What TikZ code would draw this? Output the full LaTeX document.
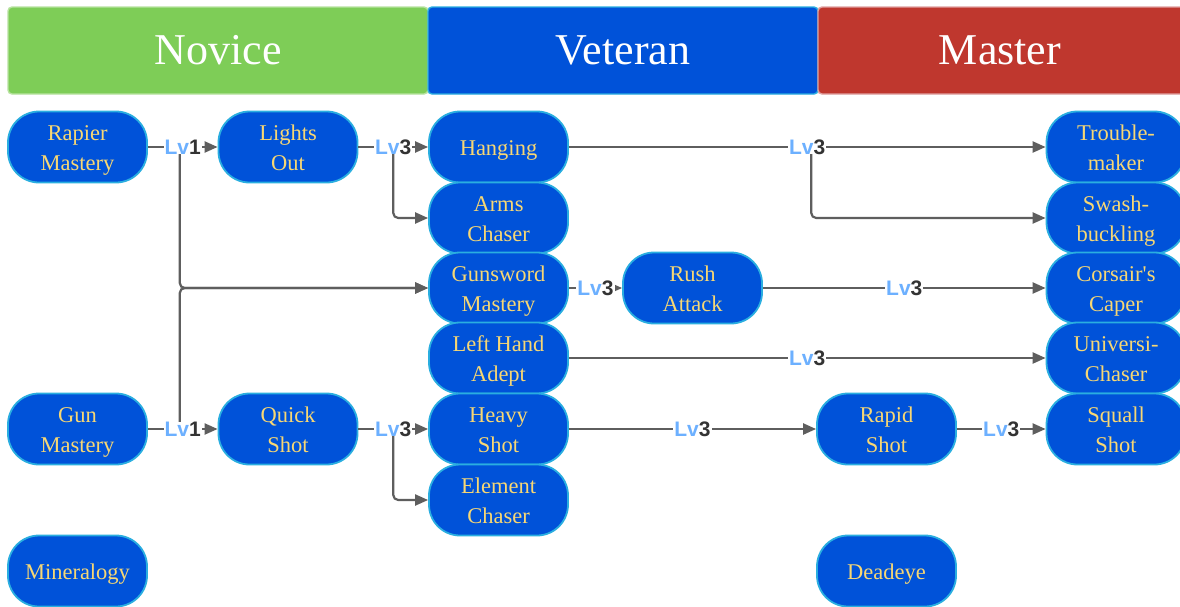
\documentclass[tikz,border=0pt]{standalone}
\usepackage{fontspec}
\setmainfont{Liberation Serif}[Ligatures=TeXOff]
\newfontfamily\lvfont{Liberation Sans}
\usetikzlibrary{arrows.meta,calc}

\definecolor{skillblue}{HTML}{0052D9}
\definecolor{skillrim}{HTML}{2AAEE0}
\definecolor{skilltext}{HTML}{F7D774}
\definecolor{tiergreen}{HTML}{7ECD57}
\definecolor{tiergreenrim}{HTML}{B8E3A0}
\definecolor{tierred}{HTML}{BF372E}
\definecolor{tierredrim}{HTML}{E0A0A0}
\definecolor{lvblue}{HTML}{6CB0FF}
\definecolor{lvdark}{HTML}{333333}
\definecolor{linkgray}{HTML}{5E5E5E}

\tikzset{
  skill/.style={rectangle, rounded corners=31pt, fill=skillblue, draw=skillrim,
    line width=1.8pt, minimum width=139pt, minimum height=71pt, inner sep=0pt,
    align=center, text=skilltext, font=\fontsize{22.5}{30}\selectfont,
    text height=21pt, text depth=5pt},
  skilltwo/.style={skill, text height=51pt, text depth=5pt},
  tier/.style={rectangle, rounded corners=4pt, line width=1.4pt, minimum height=87pt,
    inner sep=0pt, text=white, font=\fontsize{44}{50}\selectfont},
  link/.style={draw=linkgray, line width=2.2pt, -{Triangle[length=13pt,width=11pt]}},
  branch/.style={link, rounded corners=5pt},
  lv/.style={fill=white, inner xsep=1pt, inner ysep=0pt,
    font=\lvfont\bfseries\fontsize{21}{23}\selectfont}
}
\newcommand{\lvtag}[1]{\textcolor{lvblue}{Lv}\textcolor{lvdark}{#1}}

\begin{document}
\begin{tikzpicture}[x=1pt, y=-1pt]
\path[use as bounding box, clip] (0,0) rectangle (1180,606);
\fill[white] (0,0) rectangle (1180,606);

% tier headers
\node[tier, fill=tiergreen, draw=tiergreenrim, minimum width=420pt] (novice) at (218,50.5) {Novice};
\node[tier, fill=skillblue, draw=skillrim, minimum width=390pt] (veteran) at (623,50.5) {Veteran};
\node[tier, fill=tierred, draw=tierredrim, minimum width=372pt] (masterbox) at (1004,50.5) {};
\node[text=white, font=\fontsize{44}{50}\selectfont] (master) at (1000,50.5) {Master};

% skills
\node[skilltwo] (rapier)   at (77.5,147) {Rapier\\Mastery};
\node[skilltwo] (lights)   at (288,147)  {Lights\\Out};
\node[skill]    (hanging)  at (498.5,147) {Hanging};
\node[skilltwo] (arms)     at (498.5,218) {Arms\\Chaser};
\node[skilltwo] (gunsword) at (498.5,288) {Gunsword\\Mastery};
\node[skilltwo] (lefthand) at (498.5,358) {Left Hand\\Adept};
\node[skilltwo] (heavy)    at (498.5,429) {Heavy\\Shot};
\node[skilltwo] (element)  at (498.5,500) {Element\\Chaser};
\node[skilltwo] (rush)     at (692.5,288) {Rush\\Attack};
\node[skilltwo] (trouble)  at (1116,147) {Trouble-\\maker};
\node[skilltwo] (swash)    at (1116,218) {Swash-\\buckling};
\node[skilltwo] (corsair)  at (1116,288) {Corsair's\\Caper};
\node[skilltwo] (universi) at (1116,358) {Universi-\\Chaser};
\node[skilltwo] (squall)   at (1116,429) {Squall\\Shot};
\node[skilltwo] (gun)      at (77.5,429) {Gun\\Mastery};
\node[skilltwo] (quick)    at (288,429)  {Quick\\Shot};
\node[skilltwo] (rapid)    at (886.5,429) {Rapid\\Shot};
\node[skill]    (mineral)  at (77.5,571) {Mineralogy};
\node[skill]    (deadeye)  at (886.5,571) {Deadeye};

% branch points below the level tags
\coordinate (jrapier) at ($(rapier.east)!0.5!(lights.west)+(-3,0)$);
\coordinate (jgun)    at ($(gun.east)!0.5!(quick.west)+(-3,0)$);
\coordinate (jlights) at ($(lights.east)!0.5!(hanging.west)$);
\coordinate (jquick)  at ($(quick.east)!0.5!(heavy.west)$);
\coordinate (jhang)   at ($(hanging.east)!0.5!(trouble.west)+(4,0)$);

\draw[branch] (jrapier) |- (gunsword.west);
\draw[branch] (jgun) |- (gunsword.west);
\draw[branch] (jlights) |- (arms.west);
\draw[branch] (jquick) |- (element.west);
\draw[branch] (jhang) |- (swash.west);

% direct links with level tags
\draw[link] (rapier) -- node[lv] {\lvtag{1}} (lights);
\draw[link] (gun) -- node[lv] {\lvtag{1}} (quick);
\draw[link] (lights) -- node[lv] {\lvtag{3}} (hanging);
\draw[link] (quick) -- node[lv] {\lvtag{3}} (heavy);
\draw[link] (hanging) -- node[lv] {\lvtag{3}} (trouble);
\draw[link] (gunsword) -- node[lv] {\lvtag{3}} (rush);
\draw[link] (rush) -- node[lv] {\lvtag{3}} (corsair);
\draw[link] (lefthand) -- node[lv] {\lvtag{3}} (universi);
\draw[link] (heavy) -- node[lv] {\lvtag{3}} (rapid);
\draw[link] (rapid) -- node[lv] {\lvtag{3}} (squall);
\end{tikzpicture}
\end{document}
